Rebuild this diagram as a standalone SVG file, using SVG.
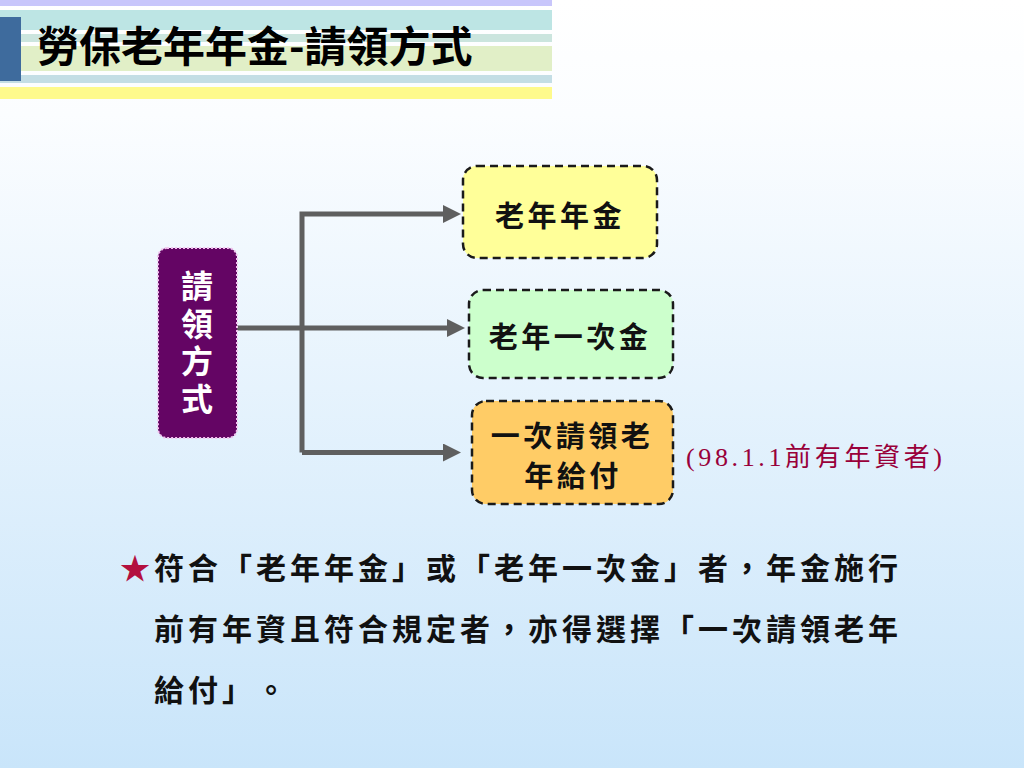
<svg xmlns="http://www.w3.org/2000/svg" width="1024" height="768" viewBox="0 0 1024 768">
<defs>
<linearGradient id="bg" x1="0" y1="0" x2="0" y2="1">
<stop offset="0" stop-color="#ffffff"/>
<stop offset="0.15" stop-color="#fbfdff"/>
<stop offset="1" stop-color="#c9e5fa"/>
</linearGradient>
<marker id="arr" viewBox="0 0 18 18" refX="0" refY="9" markerWidth="18" markerHeight="18" markerUnits="userSpaceOnUse" orient="auto">
<path d="M0,0 L18,9 L0,18 z" fill="#5f5f5f"/>
</marker>
<style>
.cjk{font-family:"Noto Sans CJK TC","Noto Sans CJK SC",sans-serif;text-spacing-trim:space-all;}
.title{font-size:42px;font-weight:700;fill:#000;}
.box{stroke:#1a1a1a;stroke-width:2.5;stroke-dasharray:8 5;}
.bt{font-size:29px;font-weight:700;fill:#111;letter-spacing:3.5px;text-anchor:middle;}
.vt{font-size:32px;font-weight:700;fill:#fff;letter-spacing:5.5px;}
.body{font-size:30px;font-weight:700;fill:#111;letter-spacing:4px;}
.star{fill:#b3103f;}
.note{font-family:"Liberation Serif","Noto Sans CJK TC",serif;font-size:26px;fill:#99003a;}
.conn{fill:none;stroke:#5f5f5f;stroke-width:5;stroke-linejoin:miter;}
</style>
</defs>
<rect x="0" y="0" width="1024" height="768" fill="url(#bg)"/>
<g id="header">
<rect x="0" y="0" width="552" height="6" fill="#c8c6fb"/>
<rect x="0" y="10" width="552" height="20" fill="#bde5e4"/>
<rect x="0" y="34" width="552" height="8" fill="#cbe5de"/>
<rect x="0" y="46" width="552" height="25" fill="#e1efc7"/>
<rect x="0" y="75" width="552" height="8" fill="#c4dee5"/>
<rect x="0" y="87" width="552" height="12" fill="#fefa8c"/>
<rect x="0" y="17" width="21" height="64" fill="#3e6b9d"/>
<text class="cjk title" x="37" y="62">勞保老年年金-請領方式</text>
</g>
<g id="connectors">
<path class="conn" d="M302,452.5 V214 H443" marker-end="url(#arr)"/>
<path class="conn" d="M302,452.5 H443" marker-end="url(#arr)"/>
<path class="conn" d="M237,328 H447" marker-end="url(#arr)"/>
</g>
<g id="node-method">
<rect x="158" y="248" width="79" height="190" rx="9" fill="#640564" stroke="#f2c4ef" stroke-width="2" stroke-dasharray="2 2"/>
<text class="cjk vt" x="197" y="270" writing-mode="vertical-rl" style="writing-mode:vertical-rl">請領方式</text>
</g>
<g id="node-annuity">
<rect class="box" x="463" y="166" width="194" height="92" rx="14" fill="#ffff99"/>
<text class="cjk bt" x="560" y="227">老年年金</text>
</g>
<g id="node-lump">
<rect class="box" x="469" y="290" width="204" height="88" rx="14" fill="#ccffcc"/>
<text class="cjk bt" x="570" y="348">老年一次金</text>
</g>
<g id="node-once">
<rect class="box" x="472" y="401" width="201" height="103" rx="14" fill="#ffcc66"/>
<text class="cjk bt" x="572" y="447">一次請領老</text>
<text class="cjk bt" x="573" y="487">年給付</text>
</g>
<text class="note" x="686" y="466" textLength="256" lengthAdjust="spacing">(98.1.1前有年資者)</text>
<g id="footnote">
<text class="cjk body" x="120" y="579"><tspan class="star">★</tspan>符合「老年年金」或「老年一次金」者，年金施行</text>
<text class="cjk body" x="154" y="640">前有年資且符合規定者，亦得選擇「一次請領老年</text>
<text class="cjk body" x="154" y="701">給付」。</text>
</g>
</svg>
